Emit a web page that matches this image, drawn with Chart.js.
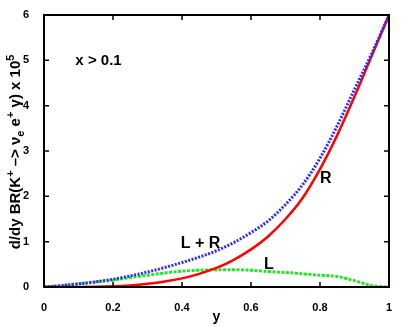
<!DOCTYPE html>
<html>
<head>
<meta charset="utf-8">
<script src="https://cdn.jsdelivr.net/npm/chart.js@4/dist/chart.umd.min.js"></script>
<style>
  html, body { margin: 0; padding: 0; background: #fff; }
  #wrap { width: 409px; height: 327px; }
</style>
</head>
<body>
<div id="wrap"><canvas id="myChart"></canvas></div>
<script>
// y values (x axis of the plot)
const yVals = [0, 0.05, 0.1, 0.15, 0.2, 0.25, 0.3, 0.35, 0.4, 0.45, 0.5,
  0.55, 0.6, 0.65, 0.7, 0.75, 0.8, 0.85, 0.9, 0.95, 1.0];
// R contribution
const rValues = [0, 0, 0.001, 0.005, 0.015, 0.035, 0.07, 0.12, 0.19, 0.29, 0.42,
  0.6, 0.83, 1.12, 1.5, 1.97, 2.6, 3.35, 4.2, 5.1, 6.0];
// L contribution
const lValues = [0, 0.03, 0.07, 0.11, 0.15, 0.21, 0.26, 0.31, 0.35, 0.37, 0.38,
  0.38, 0.37, 0.34, 0.32, 0.29, 0.26, 0.23, 0.14, 0.03, 0];
// L + R total
const lrValues = [0, 0.03, 0.07, 0.115, 0.17, 0.245, 0.33, 0.43, 0.54, 0.66, 0.8,
  0.98, 1.2, 1.46, 1.82, 2.26, 2.84, 3.56, 4.36, 5.15, 6.0];

const xTicks = [0, 0.2, 0.4, 0.6, 0.8, 1];
const yTicks = [0, 1, 2, 3, 4, 5, 6];

const FONT = "'Liberation Sans', Arial, Helvetica, sans-serif";

const toPoints = (vals) => vals.map((v, i) => ({ x: yVals[i], y: v }));

// frame with inner ticks on all four sides, gnuplot style
const framePlugin = {
  id: "frame",
  afterDatasetsDraw(chart) {
    const { ctx, chartArea: a, scales } = chart;
    ctx.save();
    ctx.strokeStyle = "#000";
    ctx.lineWidth = 2;
    ctx.strokeRect(a.left, a.top, a.right - a.left, a.bottom - a.top);
    ctx.lineWidth = 1.5;
    ctx.beginPath();
    xTicks.slice(1, -1).forEach((t) => {
      const px = scales.x.getPixelForValue(t);
      ctx.moveTo(px, a.bottom); ctx.lineTo(px, a.bottom - 5);
      ctx.moveTo(px, a.top); ctx.lineTo(px, a.top + 5);
    });
    yTicks.slice(1, -1).forEach((t) => {
      const py = scales.y.getPixelForValue(t);
      ctx.moveTo(a.left, py); ctx.lineTo(a.left + 5, py);
      ctx.moveTo(a.right, py); ctx.lineTo(a.right - 5, py);
    });
    ctx.stroke();
    ctx.restore();
  },
};

// annotations and axis titles
const textPlugin = {
  id: "texts",
  afterDraw(chart) {
    const { ctx, chartArea: a, scales } = chart;
    const at = (x, y) => [scales.x.getPixelForValue(x), scales.y.getPixelForValue(y)];
    ctx.save();
    ctx.fillStyle = "#000";
    ctx.textAlign = "center";
    ctx.textBaseline = "middle";

    ctx.font = "bold 15px " + FONT;
    let [px, py] = at(0.158, 4.98);
    ctx.fillText("x > 0.1", px, py);

    ctx.font = "bold 16px " + FONT;
    [px, py] = at(0.454, 0.96);
    ctx.fillText("L + R", px, py);
    [px, py] = at(0.817, 2.39);
    ctx.fillText("R", px, py);
    [px, py] = at(0.652, 0.5);
    ctx.fillText("L", px, py);

    ctx.font = "bold 14px " + FONT;
    ctx.fillText("y", (a.left + a.right) / 2, 317);

    // y title with super/subscripts
    const parts = [
      ["d/dy BR(K", 0], ["+", -1], [" \u2013> \u03bd", 0], ["e", 1],
      [" e", 0], ["+", -1], [" \u03b3) x 10", 0], ["5", -1],
    ];
    const big = "bold 15px " + FONT;
    const small = "bold 11px " + FONT;
    let total = 0;
    parts.forEach(([t, k]) => {
      ctx.font = k === 0 ? big : small;
      total += ctx.measureText(t).width;
    });
    ctx.translate(16, 152);
    ctx.rotate(-Math.PI / 2);
    ctx.textAlign = "left";
    let cx = -total / 2;
    parts.forEach(([t, k]) => {
      ctx.font = k === 0 ? big : small;
      ctx.fillText(t, cx, k * 5);
      cx += ctx.measureText(t).width;
    });
    ctx.restore();
  },
};

const ctx = document.getElementById("myChart").getContext("2d");
const myChart = new Chart(ctx, {
  type: "line",
  data: {
    datasets: [
      {
        label: "L + R",
        data: toPoints(lrValues),
        borderColor: "#2b2bff",
        borderWidth: 3,
        borderDash: [2, 1.5],
        pointRadius: 0,
        cubicInterpolationMode: "monotone",
      },
      {
        label: "R",
        data: toPoints(rValues),
        borderColor: "#ff0000",
        borderWidth: 2.5,
        pointRadius: 0,
        cubicInterpolationMode: "monotone",
      },
      {
        label: "L",
        data: toPoints(lValues),
        borderColor: "#22e822",
        borderWidth: 3,
        borderDash: [3, 1.5],
        pointRadius: 0,
        cubicInterpolationMode: "monotone",
      },
    ],
  },
  options: {
    responsive: true,
    maintainAspectRatio: false,
    animation: false,
    layout: { padding: { top: 15, right: 20, left: 0, bottom: 0 } },
    plugins: {
      legend: { display: false },
      tooltip: { enabled: false },
    },
    scales: {
      x: {
        type: "linear",
        min: 0,
        max: 1,
        afterBuildTicks: (s) => { s.ticks = xTicks.map((v) => ({ value: v })); },
        ticks: {
          color: "#000",
          font: { family: FONT, size: 11, weight: "bold" },
          padding: 6,
          maxRotation: 0,
          callback: (v) => String(v),
        },
        grid: { display: false },
        border: { display: false },
        afterFit: (s) => { s.height = 40; },
      },
      y: {
        min: 0,
        max: 6,
        afterBuildTicks: (s) => { s.ticks = yTicks.map((v) => ({ value: v })); },
        ticks: {
          color: "#000",
          font: { family: FONT, size: 11, weight: "bold" },
          padding: 7,
        },
        grid: { display: false },
        border: { display: false },
        afterFit: (s) => { s.width = 44; },
      },
    },
  },
  plugins: [framePlugin, textPlugin],
});
</script>
</body>
</html>
